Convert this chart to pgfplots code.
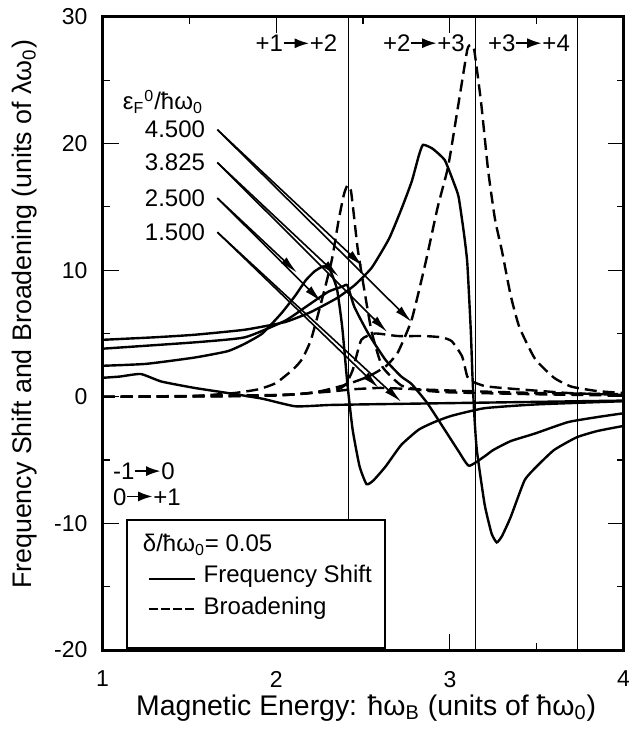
\documentclass[border=0pt]{standalone}
\usepackage{pgfplots}
\pgfplotsset{compat=1.18}
\usepackage{fontspec}
\setmainfont{Liberation Sans}
\usetikzlibrary{arrows.meta}
\newsavebox\arrbox
\begin{document}
\sbox\arrbox{\fontsize{12}{14}\selectfont\tikz[baseline={(0,-0.36em)}]\draw[line width=0.9pt,-{Latex[length=0.6em,width=0.42em]}] (0,0)--(1.05em,0);}
\begin{tikzpicture}
\begin{axis}[
  scale only axis, width=260.5pt, height=316.5pt,
  xmin=1, xmax=4, ymin=-20, ymax=30,
  xtick={1,2,3,4}, xticklabels={1,2,3,4},
  minor xtick={1.5,2.5,3.5},
  ytick={-20,-10,0,10,20,30}, yticklabels={-20,-10,0,10,20,30},
  minor ytick={-15,-5,5,15,25},
  tick align=inside, major tick length=8pt, minor tick length=3.5pt,
  axis line style={line width=1.5pt},
  every tick/.style={black, line width=0.6pt},
  tick label style={font=\fontsize{11.5}{13}\selectfont},
  xticklabel style={yshift=-7pt},
  yticklabel style={xshift=-4pt},
  xlabel style={font=\fontsize{14.2}{16}\selectfont, at={(axis description cs:0.506,-0.092)}, anchor=center},
  ylabel style={font=\fontsize{13.4}{16}\selectfont, at={(axis description cs:-0.150,0.53)}, anchor=center},
  xlabel={Magnetic Energy: ħω\textsubscript{B} (units of ħω\textsubscript{0})},
  ylabel={Frequency Shift and Broadening (units of λω\textsubscript{0})},
  clip=false,
]
% frequency shift (solid)
\addplot[black, line width=1.2pt, smooth, tension=0.3] coordinates {(1,1.5) (1.1,1.6) (1.22,1.8) (1.34,1.2) (1.53,0.7) (1.72,0.3) (1.92,-0.15) (2.11,-0.75) (2.3,-0.65) (2.5,-0.6) (3,-0.5) (3.5,-0.4) (4,-0.3)};
\addplot[black, line width=1.2pt, smooth, tension=0.3] coordinates {(1,2.45) (1.25,2.6) (1.53,3.1) (1.72,3.6) (1.82,4.2) (1.92,5.0) (2.03,6.6) (2.11,8.0) (2.17,9.2) (2.22,9.9) (2.27,10.3) (2.31,10.0) (2.35,8.5) (2.38,5.5) (2.41,1.0) (2.44,-2.6) (2.48,-5.5) (2.52,-6.9) (2.56,-6.6) (2.63,-5.5) (2.72,-3.8) (2.82,-2.6) (2.91,-2.0) (3.01,-1.5) (3.2,-0.9) (3.5,-0.6) (4,-0.35)};
\addplot[black, line width=1.2pt, smooth, tension=0.3] coordinates {(1,3.8) (1.53,4.3) (1.82,4.7) (2.05,6.0) (2.17,7.1) (2.30,8.3) (2.38,8.7) (2.41,8.8) (2.45,7.1) (2.53,5.0) (2.63,2.9) (2.72,1.6) (2.78,1.0) (2.87,-0.5) (2.97,-2.6) (3.05,-4.3) (3.11,-5.45) (3.2,-4.7) (3.25,-4.2) (3.35,-3.5) (3.49,-2.9) (3.68,-2.0) (3.85,-1.6) (4,-1.3)};
\addplot[black, line width=1.2pt, smooth, tension=0.3] coordinates {(1,4.5) (1.3,4.7) (1.53,4.9) (1.82,5.3) (2.05,5.9) (2.2,6.7) (2.35,7.8) (2.45,8.8) (2.55,10.2) (2.65,12.5) (2.72,14.8) (2.78,17) (2.82,19) (2.845,19.9) (2.9,19.6) (2.97,18.7) (3.02,17) (3.05,15.8) (3.08,13) (3.10,10.6) (3.12,5.3) (3.13,1.6) (3.14,-1.3) (3.155,-4.2) (3.2,-8.5) (3.24,-10.8) (3.27,-11.5) (3.3,-11) (3.35,-9.5) (3.43,-6.6) (3.5,-5.5) (3.6,-4.2) (3.73,-3.2) (3.85,-2.7) (4,-2.3)};
% broadening (dashed)
\addplot[black, line width=1.2pt, dash pattern=on 6pt off 3pt, smooth, tension=0.3] coordinates {(1,0) (1.8,0.05) (2.1,0.2) (2.3,0.4) (2.45,0.6) (2.6,0.7) (2.8,0.6) (3.1,0.45) (3.5,0.3) (4,0.2)};
\addplot[black, line width=1.2pt, dash pattern=on 6pt off 3pt, smooth, tension=0.3] coordinates {(1,0) (1.5,0.05) (1.76,0.3) (1.9,0.6) (2.0,1.1) (2.1,2.2) (2.15,3.0) (2.2,4.5) (2.26,7.5) (2.32,10.8) (2.36,14) (2.39,16) (2.41,16.7) (2.43,16.3) (2.45,14) (2.47,11.6) (2.51,8.2) (2.55,5.1) (2.61,2.4) (2.72,0.9) (2.85,0.5) (3,0.35) (3.5,0.2) (4,0.1)};
\addplot[black, line width=1.2pt, dash pattern=on 6pt off 3pt, smooth, tension=0.3] coordinates {(1,0) (2.0,0.1) (2.34,0.55) (2.40,1.0) (2.44,2.1) (2.49,4.5) (2.57,5.0) (2.7,4.8) (2.85,4.8) (2.95,4.7) (3.01,4.4) (3.07,3.2) (3.10,1.6) (3.13,1.2) (3.2,0.85) (3.30,0.7) (3.68,0.3) (4,0.15)};
\addplot[black, line width=1.2pt, dash pattern=on 6pt off 3pt, smooth, tension=0.3] coordinates {(1,0) (2.05,0.15) (2.24,0.4) (2.40,0.95) (2.53,1.6) (2.63,2.4) (2.70,3.5) (2.78,6.1) (2.86,10.6) (2.93,15) (2.99,18.2) (3.05,23.2) (3.10,27.4) (3.12,27.8) (3.14,27.4) (3.18,23.2) (3.22,17.9) (3.26,14) (3.30,11.5) (3.35,8) (3.40,5.5) (3.49,3) (3.6,1.5) (3.7,0.8) (3.85,0.45) (4,0.3)};
% transition lines
\addplot[black, line width=0.5pt] coordinates {(2.41421,-20) (2.41421,30)};
\addplot[black, line width=0.5pt] coordinates {(3.14626,-20) (3.14626,30)};
\addplot[black, line width=0.5pt] coordinates {(3.73205,-20) (3.73205,30)};
% arrows
\begin{scope}[line width=0.8pt, -{Latex[length=9pt,width=4pt]}]
\draw (axis cs:1.661,21.1) -- (axis cs:2.50,10.3);
\draw (axis cs:1.661,21.1) -- (axis cs:2.78,5.9);
\draw (axis cs:1.661,18.5) -- (axis cs:2.36,9.5);
\draw (axis cs:1.661,18.5) -- (axis cs:2.64,5.1);
\draw (axis cs:1.661,15.7) -- (axis cs:2.12,9.8);
\draw (axis cs:1.661,15.7) -- (axis cs:2.26,7.5);
\draw (axis cs:1.661,13.0) -- (axis cs:2.59,0.7);
\draw (axis cs:1.661,13.0) -- (axis cs:2.72,-0.4);
\end{scope}
% texts
\begin{scope}[font=\fontsize{12}{14}\selectfont, inner sep=0pt]
\node[anchor=east] at (axis cs:2.354,27.9) {+1\usebox\arrbox+2};
\node[anchor=east] at (axis cs:3.088,27.9) {+2\usebox\arrbox+3};
\node[anchor=east] at (axis cs:3.693,27.9) {+3\usebox\arrbox+4};
\node[anchor=west] at (axis cs:1.115,23.3) {ε\textsubscript{F}\textsuperscript{0}/ħω\textsubscript{0}};
\node[anchor=east] at (axis cs:1.592,21.1) {4.500};
\node[anchor=east] at (axis cs:1.592,18.5) {3.825};
\node[anchor=east] at (axis cs:1.592,15.7) {2.500};
\node[anchor=east] at (axis cs:1.592,13.0) {1.500};
\node[anchor=west] at (axis cs:1.058,-5.9) {-1\usebox\arrbox0};
\node[anchor=west] at (axis cs:1.058,-7.9) {0\usebox\arrbox+1};
\end{scope}
% legend box
\draw[line width=1pt, fill=white] (axis cs:1.138,-9.72) rectangle (axis cs:2.627,-19.85);
\begin{scope}[font=\fontsize{12}{14}\selectfont, inner sep=0pt]
\node[anchor=west] at (axis cs:1.23,-11.7) {δ/ħω\textsubscript{0}= 0.05};
\draw[line width=1pt] (axis cs:1.265,-14.4) -- (axis cs:1.535,-14.4);
\node[anchor=west] at (axis cs:1.58,-14.2) {Frequency Shift};
\draw[line width=1pt, dash pattern=on 4.5pt off 1.6pt] (axis cs:1.265,-16.8) -- (axis cs:1.535,-16.8);
\node[anchor=west] at (axis cs:1.58,-16.7) {Broadening};
\end{scope}
\end{axis}
\pgfresetboundingbox
\path[use as bounding box] ([shift={(-48.5pt,-40.5pt)}]current axis.south west) rectangle ([shift={(2.7pt,8.5pt)}]current axis.north east);
\end{tikzpicture}
\end{document}
